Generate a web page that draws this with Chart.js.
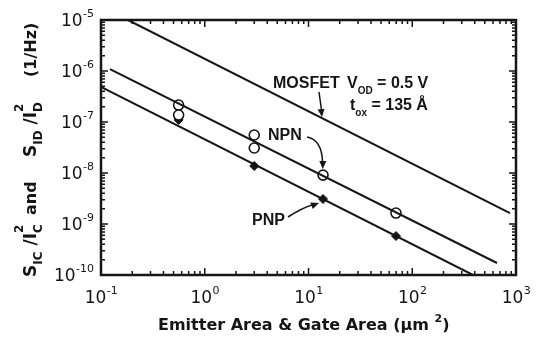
<!DOCTYPE html>
<html>
<head>
<meta charset="utf-8">
<script src="https://cdn.jsdelivr.net/npm/chart.js@4.4.0/dist/chart.umd.min.js"></script>
<style>
  html, body { margin: 0; padding: 0; background: #fff; }
  #wrap { width: 542px; height: 339px; }
</style>
</head>
<body>
<div id="wrap"><canvas id="noiseCanvas"></canvas></div>
<script>
// decade ticks and their exponent labels
const xDecades = [0.1, 1, 10, 100, 1000];
const xExponents = ["-1", "0", "1", "2", "3"];
const yDecades = [1e-10, 1e-9, 1e-8, 1e-7, 1e-6, 1e-5];
const yExponents = ["-10", "-9", "-8", "-7", "-6", "-5"];

// fitted 1/area lines (end points)
const mosfetLine = [{x: 0.182, y: 1e-5}, {x: 875, y: 1.64e-9}];
const npnLine = [{x: 0.122, y: 1.09e-6}, {x: 656, y: 1.72e-10}];
const pnpLine = [{x: 0.1, y: 4.86e-7}, {x: 385, y: 1e-10}];

// measured devices
const npnArea = [0.56, 0.56, 3.0, 3.0, 13.8, 69.7];
const npnNoise = [2.15e-7, 1.37e-7, 5.56e-8, 3.09e-8, 9.1e-9, 1.64e-9];
const pnpArea = [0.56, 3.0, 13.8, 69.7];
const pnpNoise = [1.1e-7, 1.37e-8, 3.09e-9, 5.8e-10];

const ink = "#151515";
const boldFont = "'Liberation Sans', Arial, sans-serif";
const wideFont = "'DejaVu Sans', sans-serif";

function pairs(xs, ys) {
    return xs.map((x, i) => ({x: x, y: ys[i]}));
}

function lineSet(data) {
    return {
        type: "line",
        data: data,
        borderColor: ink,
        borderWidth: 2,
        pointRadius: 0,
        fill: false,
        tension: 0
    };
}

// draws a run of text pieces: {t, size, dy} along the current baseline
function richText(ctx, pieces, family) {
    let u = 0;
    pieces.forEach(p => {
        ctx.font = "bold " + p.size + "px " + family;
        ctx.fillText(p.t, u, p.dy || 0);
        if (!p.stay) u += ctx.measureText(p.t).width;
    });
    return u;
}

function arrowHead(ctx, x, y, angle) {
    ctx.save();
    ctx.translate(x, y);
    ctx.rotate(angle);
    ctx.beginPath();
    ctx.moveTo(0, 0);
    ctx.lineTo(-8, -3.5);
    ctx.lineTo(-8, 3.5);
    ctx.closePath();
    ctx.fill();
    ctx.restore();
}

const framePlugin = {
    id: "framePlugin",
    afterDraw(chart) {
        const ctx = chart.ctx;
        const xs = chart.scales.x;
        const ys = chart.scales.y;
        const a = chart.chartArea;
        ctx.save();
        ctx.strokeStyle = ink;
        ctx.fillStyle = ink;

        // box
        ctx.lineWidth = 2.5;
        ctx.strokeRect(a.left, a.top, a.right - a.left, a.bottom - a.top);

        // inward ticks on all four sides
        ctx.lineWidth = 1.5;
        ctx.beginPath();
        xDecades.forEach(d => {
            for (let m = 1; m <= 9; m++) {
                const v = d * m;
                if (v > xDecades[xDecades.length - 1]) break;
                const px = xs.getPixelForValue(v);
                const len = m === 1 ? 7 : 4;
                ctx.moveTo(px, a.bottom); ctx.lineTo(px, a.bottom - len);
                ctx.moveTo(px, a.top); ctx.lineTo(px, a.top + len);
            }
        });
        yDecades.forEach(d => {
            for (let m = 1; m <= 9; m++) {
                const v = d * m;
                if (v > yDecades[yDecades.length - 1] * 1.0001) break;
                const py = ys.getPixelForValue(v);
                const len = m === 1 ? 7 : 4;
                ctx.moveTo(a.left, py); ctx.lineTo(a.left + len, py);
                ctx.moveTo(a.right, py); ctx.lineTo(a.right - len, py);
            }
        });
        ctx.stroke();

        // tick labels: 10 with raised exponent
        ctx.textBaseline = "alphabetic";
        ctx.textAlign = "left";
        xDecades.forEach((d, i) => {
            const px = xs.getPixelForValue(d);
            ctx.font = "17px " + wideFont;
            const w1 = ctx.measureText("10").width;
            ctx.font = "11px " + wideFont;
            const w2 = ctx.measureText(xExponents[i]).width;
            const left = px - (w1 + w2) / 2;
            ctx.font = "17px " + wideFont;
            ctx.fillText("10", left, a.bottom + 28);
            ctx.font = "11px " + wideFont;
            ctx.fillText(xExponents[i], left + w1 + 0.5, a.bottom + 19);
        });
        yDecades.forEach((d, i) => {
            const py = ys.getPixelForValue(d);
            ctx.font = "11px " + wideFont;
            const w2 = ctx.measureText(yExponents[i]).width;
            ctx.font = "17px " + wideFont;
            const w1 = ctx.measureText("10").width;
            const right = a.left - 7;
            ctx.fillText("10", right - w2 - w1 - 0.5, py + 6);
            ctx.font = "11px " + wideFont;
            ctx.fillText(yExponents[i], right - w2, py - 3);
        });

        // x axis title
        ctx.save();
        ctx.translate(158, 330);
        richText(ctx, [
            {t: "Emitter Area & Gate Area (\u03bcm ", size: 16},
            {t: "2", size: 11, dy: -8},
            {t: ")", size: 16}
        ], wideFont);
        ctx.restore();

        // y axis title, reading upwards
        const yTitle = [
            {start: 277, pieces: [
                {t: "S", size: 17},
                {t: "IC", size: 12, dy: 6},
                {t: " /I", size: 17},
                {t: "2", size: 12, dy: -13, stay: true},
                {t: "C", size: 12, dy: 6}
            ]},
            {start: 215, pieces: [{t: "and", size: 16}]},
            {start: 157, pieces: [
                {t: "S", size: 17},
                {t: "ID", size: 12, dy: 6},
                {t: " /I", size: 17},
                {t: "2", size: 12, dy: -13, stay: true},
                {t: "D", size: 12, dy: 6}
            ]},
            {start: 77, pieces: [{t: "(1/Hz)", size: 16}]}
        ];
        yTitle.forEach(g => {
            ctx.save();
            ctx.translate(36, g.start);
            ctx.rotate(-Math.PI / 2);
            richText(ctx, g.pieces, wideFont);
            ctx.restore();
        });

        // annotations
        ctx.save();
        ctx.translate(273, 88);
        richText(ctx, [{t: "MOSFET", size: 16}], boldFont);
        ctx.restore();
        ctx.save();
        ctx.translate(347, 88);
        richText(ctx, [
            {t: "V", size: 16},
            {t: "OD", size: 10, dy: 6},
            {t: " = 0.5 V", size: 16}
        ], boldFont);
        ctx.restore();
        ctx.save();
        ctx.translate(350, 110);
        richText(ctx, [
            {t: "t", size: 16},
            {t: "ox", size: 10, dy: 6},
            {t: " = 135 \u00c5", size: 16}
        ], boldFont);
        ctx.restore();
        ctx.save();
        ctx.translate(268, 140);
        richText(ctx, [{t: "NPN", size: 16}], boldFont);
        ctx.restore();
        ctx.save();
        ctx.translate(252, 225);
        richText(ctx, [{t: "PNP", size: 16}], boldFont);
        ctx.restore();

        // arrows
        ctx.lineWidth = 1.5;
        ctx.beginPath();
        ctx.moveTo(319, 92);
        ctx.lineTo(321.5, 110);
        ctx.stroke();
        arrowHead(ctx, 322, 117, Math.atan2(25, 3));

        ctx.beginPath();
        ctx.moveTo(307, 137);
        ctx.quadraticCurveTo(322, 140, 322.5, 162);
        ctx.stroke();
        arrowHead(ctx, 322.8, 169, Math.PI / 2);

        ctx.beginPath();
        ctx.moveTo(288, 217);
        ctx.quadraticCurveTo(302, 208, 312, 205);
        ctx.stroke();
        arrowHead(ctx, 319, 203, Math.atan2(-3, 8));

        ctx.restore();
    }
};

const noiseCanvas = document.getElementById("noiseCanvas");

const noiseChart = new Chart(noiseCanvas, {
    type: "scatter",
    data: {
        datasets: [
            lineSet(mosfetLine),
            lineSet(npnLine),
            lineSet(pnpLine),
            {
                label: "NPN",
                data: pairs(npnArea, npnNoise),
                pointStyle: "circle",
                pointRadius: 5,
                pointBorderWidth: 1.6,
                pointBorderColor: ink,
                pointBackgroundColor: "#fff"
            },
            {
                label: "PNP",
                data: pairs(pnpArea, pnpNoise),
                pointStyle: "rectRot",
                pointRadius: 4.5,
                pointBorderWidth: 1,
                pointBorderColor: ink,
                pointBackgroundColor: ink
            }
        ]
    },
    options: {
        responsive: true,
        maintainAspectRatio: false,
        animation: false,
        events: [],
        layout: {
            padding: {left: 101, top: 20, right: 26, bottom: 64}
        },
        scales: {
            x: {
                type: "logarithmic",
                min: 0.1,
                max: 1000,
                display: false
            },
            y: {
                type: "logarithmic",
                min: 1e-10,
                max: 1e-5,
                display: false
            }
        },
        plugins: {
            legend: {display: false},
            tooltip: {enabled: false}
        }
    },
    plugins: [framePlugin]
});
</script>
</body>
</html>
